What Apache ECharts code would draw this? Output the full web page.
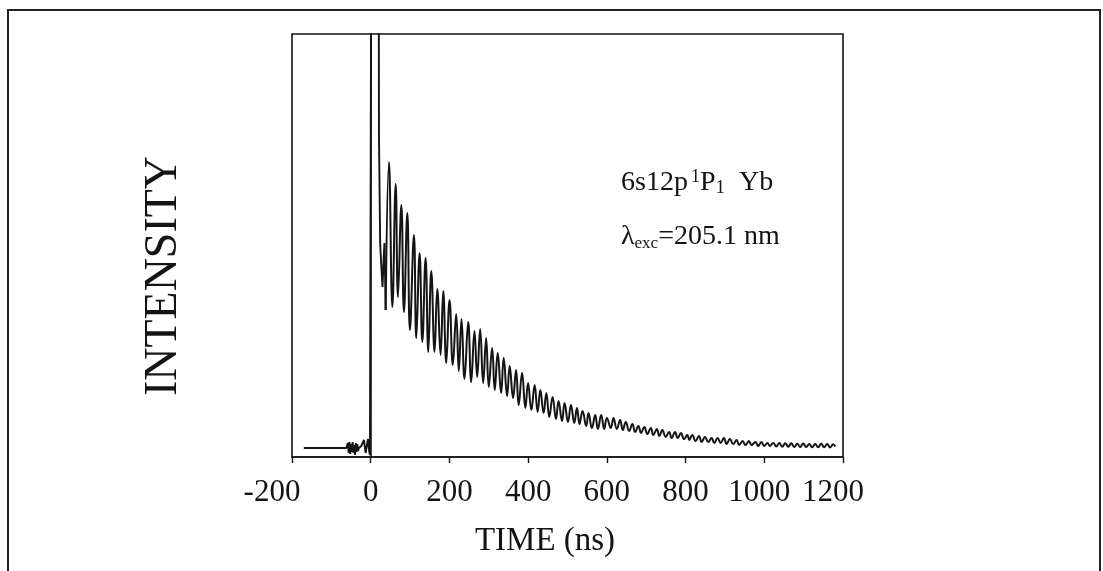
<!DOCTYPE html>
<html>
<head>
<meta charset="utf-8">
<script src="https://cdn.jsdelivr.net/npm/echarts@6/dist/echarts.min.js"></script>
<style>
html,body{margin:0;padding:0;background:#fff;}
#chart{width:1103px;height:571px;}
</style>
</head>
<body>
<div id="chart"></div>
<script>
// Time axis ticks (ns)
const xTicks = [-200, 0, 200, 400, 600, 800, 1000, 1200];

// Baseline, pre-trigger noise and excitation spike (time ns, intensity arb. units)
const spikeTime = [-170, -62, -60, -58, -56, -54, -52, -50, -48, -46, -44, -42, -40, -38, -36, -34, -32, -30, -27, -24, -20, -17, -13, -10, -7, -4, -2, 0, 2, 20, 21, 24, 27, 30, 33, 35, 38];
const spikeValue = [9, 9, 9, 14, 4, 15, 3, 13, 5, 15, 4, 12, 2, 14, 5, 13, 6, 9, 8, 11, 9, 17, 4, 2, 18, 6, 2, 3, 600, 600, 320, 214, 190, 170, 200, 214, 147];

// Quantum-beat decay: successive troughs and peaks
const decayTime = [38.0, 46.4, 55.0, 63.4, 69.2, 77.8, 84.4, 93.0, 99.6, 109.8, 115.8, 124.2, 131.1, 139.4, 146.3, 153.9, 162.2, 169.1, 177.5, 184.3, 191.9, 200.3,
208.6, 217.2, 223.8, 230.7, 238.3, 247.7, 255.3, 263.6, 270.5, 278.1, 285.7, 293.3, 299.9, 308.5, 315.1, 322.7, 331.3, 337.9, 346.5, 353.1, 361.7, 369.3, 375.9, 384.6, 392.9, 399.8,
408.1, 416.5, 424.1, 431.0, 439.3, 446.2, 453.8, 462.1, 470.7, 477.3, 486.0, 492.6, 501.2, 508.8, 517.1, 524.0, 530.6, 538.2, 547.6, 553.4, 562.0, 570.4, 577.2, 585.6, 593.2, 600.0,
610.2, 616.8, 625.4, 633.8, 640.6, 648.2, 656.6, 664.9, 671.8, 680.1, 687.0, 695.4, 703.0, 711.6, 718.2, 726.8, 733.4, 741.0, 749.6, 758.0, 764.8, 773.2, 780.0, 788.4, 796.0, 804.4,
809.4, 817.0, 825.6, 834.0, 840.9, 849.2, 857.6, 866.2, 872.8, 881.4, 889.0, 897.4, 904.2, 912.6, 921.0, 929.6, 936.2, 944.8, 952.4, 960.8, 967.6, 977.8, 984.3, 993.0, 999.6, 1008.2, 1014.0,
1022.9, 1030.5, 1038.1, 1045.7, 1053.3, 1060.9, 1068.5, 1076.1, 1083.7, 1091.3, 1098.9, 1106.5, 1114.1, 1121.7, 1129.3, 1136.9, 1144.5, 1152.2, 1159.8, 1167.4, 1175.0, 1180.1];
const decayValue = [147, 295, 150, 273, 160, 252, 145, 244, 127, 222, 119, 204, 115, 199, 105, 186, 105, 168, 102, 166, 94, 157,
92, 143, 86, 138, 78, 135, 75, 126, 80, 128, 74, 119, 70, 109, 67, 104, 64, 99, 61, 91, 59, 87, 52, 84, 49, 74,
47, 72, 45, 67, 44, 64, 40, 60, 38, 56, 36, 54, 35, 52, 34, 49, 33, 46, 31, 44, 29, 42, 28, 42, 28, 39,
29, 39, 28, 37, 27, 35, 26, 33, 25, 31, 24, 30, 23, 29, 22, 28, 21, 27, 20, 25, 19, 25, 19, 24, 18, 22,
17, 22, 16, 21, 15, 20, 15, 19, 14, 19, 14, 19, 13, 18, 13, 17, 12, 16, 12, 16, 12, 15, 11, 15, 11, 14, 11,
14, 10.5, 14, 10.3, 13.7, 10.3, 13.7, 10, 13.3, 10, 13.5, 10, 13, 9.7, 13, 9.7, 13.3, 9.7, 13, 9.5, 12.7, 10.5];

const xTitle = 'TIME (ns)';
const yTitle = 'INTENSITY';

const SERIF = '"Liberation Serif", "DejaVu Serif", serif';
const INK = '#141414';
const TICK_FONT = 31;

function tickLabel(v) {
  if (v < 0) return '{n|' + v + '}';
  if (v === 1200) return '{r2|' + v + '}';
  if (v === 1000) return '{r1|' + v + '}';
  return '{c|' + v + '}';
}
const tickRich = {
  c: {fontFamily: SERIF, fontSize: TICK_FONT, color: INK},
  n: {fontFamily: SERIF, fontSize: TICK_FONT, color: INK, padding: [0, 40, 0, 0]},
  r1: {fontFamily: SERIF, fontSize: TICK_FONT, color: INK, padding: [0, 10, 0, 0]},
  r2: {fontFamily: SERIF, fontSize: TICK_FONT, color: INK, padding: [0, 20, 0, 0]}
};

const chart = echarts.init(document.getElementById('chart'), null, {renderer: 'canvas'});
chart.setOption({
  backgroundColor: '#ffffff',
  animation: false,
  grid: {
    left: 292, right: 260, top: 34, bottom: 114,
    show: true, borderColor: INK, borderWidth: 1.6, backgroundColor: 'transparent'
  },
  xAxis: {
    type: 'value',
    min: xTicks[0], max: xTicks[xTicks.length - 1], interval: 200,
    splitLine: {show: false},
    axisLine: {show: true, onZero: false, lineStyle: {color: INK, width: 1.6}},
    axisTick: {show: true, inside: false, length: 6, lineStyle: {color: INK, width: 1.4}},
    axisLabel: {color: INK, fontFamily: SERIF, fontSize: TICK_FONT, margin: 20, formatter: tickLabel, rich: tickRich}
  },
  yAxis: {
    type: 'value', min: 0, max: 423,
    splitLine: {show: false},
    axisLine: {show: true, lineStyle: {color: INK, width: 1.6}},
    axisTick: {show: false},
    axisLabel: {show: false}
  },
  series: [
    {
      type: 'line', clip: true, symbol: 'none', smooth: false,
      lineStyle: {color: INK, width: 1.9},
      data: spikeTime.map((t, i) => [t, spikeValue[i]])
    },
    {
      type: 'line', clip: true, symbol: 'none', smooth: 0.45,
      lineStyle: {color: INK, width: 2},
      data: decayTime.map((t, i) => [t, decayValue[i]])
    }
  ],
  graphic: [
    {
      type: 'rect', silent: true,
      shape: {x: 8, y: 10, width: 1092, height: 620},
      style: {fill: 'none', stroke: '#222', lineWidth: 2}
    },
    {
      type: 'text', x: 545, y: 541, silent: true,
      style: {text: xTitle, align: 'center', verticalAlign: 'middle', fontFamily: SERIF, fontSize: 33, fill: INK}
    },
    {
      type: 'text', x: 164, y: 276, rotation: Math.PI / 2, silent: true,
      style: {text: yTitle, align: 'center', verticalAlign: 'middle', fontFamily: SERIF, fontSize: 46, fill: INK}
    },
    {
      type: 'text', x: 621, y: 168, silent: true,
      style: {
        text: '{m|6s12p}{sp|1}{m|P}{sb|1}{m|  Yb}',
        align: 'left', verticalAlign: 'top',
        rich: {
          m: {fontFamily: SERIF, fontSize: 28, lineHeight: 30, verticalAlign: 'middle', fill: INK, color: INK},
          sp: {fontFamily: SERIF, fontSize: 18, lineHeight: 20, verticalAlign: 'top', fill: INK, color: INK, padding: [0, 0, 0, 3]},
          sb: {fontFamily: SERIF, fontSize: 19, lineHeight: 20, verticalAlign: 'bottom', fill: INK, color: INK}
        }
      }
    },
    {
      type: 'text', x: 621, y: 222, silent: true,
      style: {
        text: '{m|λ}{sb|exc}{m|=205.1 nm}',
        align: 'left', verticalAlign: 'top',
        rich: {
          m: {fontFamily: SERIF, fontSize: 28, lineHeight: 30, verticalAlign: 'middle', fill: INK, color: INK},
          sb: {fontFamily: SERIF, fontSize: 17, lineHeight: 20, verticalAlign: 'bottom', fill: INK, color: INK}
        }
      }
    }
  ]
});
</script>
</body>
</html>
